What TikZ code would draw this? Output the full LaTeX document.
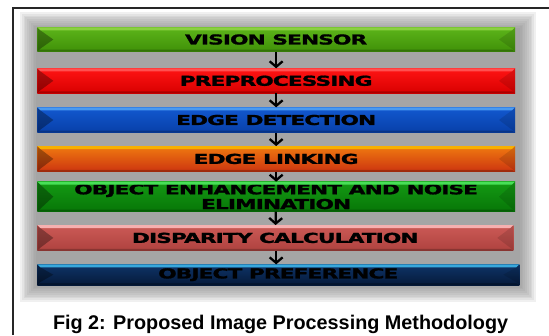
\documentclass[tikz,border=0pt]{standalone}
\usepackage{fontspec}
\usepackage{graphicx}
\setmainfont{DejaVu Sans}
\newfontfamily\barfont[BoldFeatures={FakeBold=1.2,LetterSpace=-4}]{DejaVu Sans}
\newfontfamily\capfont{Liberation Sans}
\usetikzlibrary{arrows.meta}
\definecolor{vsT}{HTML}{5DB51A}\definecolor{vsB}{HTML}{3F9008}\definecolor{vsH}{HTML}{8AD040}
\definecolor{prT}{HTML}{FF1414}\definecolor{prB}{HTML}{D80000}\definecolor{prH}{HTML}{FF5050}
\definecolor{edT}{HTML}{1258D0}\definecolor{edB}{HTML}{0840A8}\definecolor{edH}{HTML}{4A9AF0}
\definecolor{elT}{HTML}{F07A10}\definecolor{elB}{HTML}{CC3410}\definecolor{elH}{HTML}{F8B000}
\definecolor{oeT}{HTML}{149A14}\definecolor{oeB}{HTML}{077607}\definecolor{oeH}{HTML}{48E058}
\definecolor{dcT}{HTML}{CC5A56}\definecolor{dcB}{HTML}{AE423F}\definecolor{dcH}{HTML}{F6B0B0}
\definecolor{opT}{HTML}{0E3468}\definecolor{opB}{HTML}{061A3A}\definecolor{opH}{HTML}{38A8DC}
\newcommand\wide[1]{\scalebox{1.58}[1]{#1}}
\newcommand\bevelbar[2]{%
  \fill[#2] (#1.north west) -- (#1.north east) -- ([xshift=-3pt,yshift=-3pt]#1.north east) -- ([xshift=3pt,yshift=-3pt]#1.north west) -- cycle;
  \fill[black, opacity=.32] (#1.north west) -- ([xshift=3pt,yshift=-3pt]#1.north west) -- ([xshift=16pt]#1.west) -- ([xshift=3pt,yshift=3pt]#1.south west) -- (#1.south west) -- cycle;
  \fill[black, opacity=.12] (#1.north east) -- ([xshift=-3pt,yshift=-3pt]#1.north east) -- ([xshift=-16pt]#1.east) -- ([xshift=-3pt,yshift=3pt]#1.south east) -- (#1.south east) -- cycle;
  \fill[black, opacity=.22] (#1.south west) -- (#1.south east) -- ([xshift=-3pt,yshift=2pt]#1.south east) -- ([xshift=3pt,yshift=2pt]#1.south west) -- cycle;
}
\begin{document}
\begin{tikzpicture}[x=1pt,y=-1pt,
  barbox/.style={minimum width=477.7pt, minimum height=#1, inner sep=0pt, outer sep=0pt,
    text=black, font=\barfont\bfseries\fontsize{13.7}{15.7}\selectfont, align=center},
  flow/.style={line width=2.3pt, -{Straight Barb[length=5.5pt,width=13pt]}},
  frame/.style={line width=1.4pt, black!85}]
\useasboundingbox (0,0) rectangle (549,335);
\fill[white] (0,0) rectangle (549,335);
% soft gray backdrop
\foreach \i in {0,...,9}{
  \fill[black!46, opacity=0.125] (20+1.8*\i,12+1.8*\i) rectangle (536-1.8*\i,302-1.8*\i);
}
% frame
\draw[frame] (13,335) -- (13,8) -- (549,8);
% bars
\node[barbox=24.4pt, top color=vsT, bottom color=vsB] (vs) at (276.15,39.5) {\wide{VISION SENSOR}};
\node[barbox=25pt, top color=prT, bottom color=prB] (pre) at (276.15,80.8) {\wide{PREPROCESSING}};
\node[barbox=25.4pt, top color=edT, bottom color=edB] (ed) at (276.15,120) {\wide{EDGE DETECTION}};
\node[barbox=25.7pt, top color=elT, bottom color=elB] (el) at (276.15,158.9) {\wide{EDGE LINKING}};
\node[barbox=30pt, top color=oeT, bottom color=oeB] (oe) at (276.15,196.7) {\wide{OBJECT ENHANCEMENT AND NOISE}\\[-1pt]\wide{ELIMINATION}};
\node[barbox=25.7pt, minimum width=476pt, top color=dcT, bottom color=dcB] (dc) at (275.3,237.9) {\wide{DISPARITY CALCULATION}};
\node[barbox=20.7pt, minimum width=482pt, top color=opT, bottom color=opB] (op) at (278.3,274.7) {\wide{OBJECT PREFERENCE}};
% bevels
\bevelbar{vs}{vsH}
\bevelbar{pre}{prH}
\bevelbar{ed}{edH}
\bevelbar{el}{elH}
\bevelbar{oe}{oeH}
\bevelbar{dc}{dcH}
\bevelbar{op}{opH}
% connectors
\draw[flow] (vs) -- (pre);
\draw[flow] (pre) -- (ed);
\draw[flow] (ed) -- (el);
\draw[flow] (el) -- (oe);
\draw[flow] (oe) -- (dc);
\draw[flow] (dc.south -| vs.south) -- (op.north -| vs.south);
% caption
\node[anchor=base, font=\capfont\bfseries\fontsize{19.8}{22}\selectfont, inner sep=0pt] (cap) at (280.6,329.5) {Fig 2: Proposed Image Processing Methodology};
\end{tikzpicture}
\end{document}
